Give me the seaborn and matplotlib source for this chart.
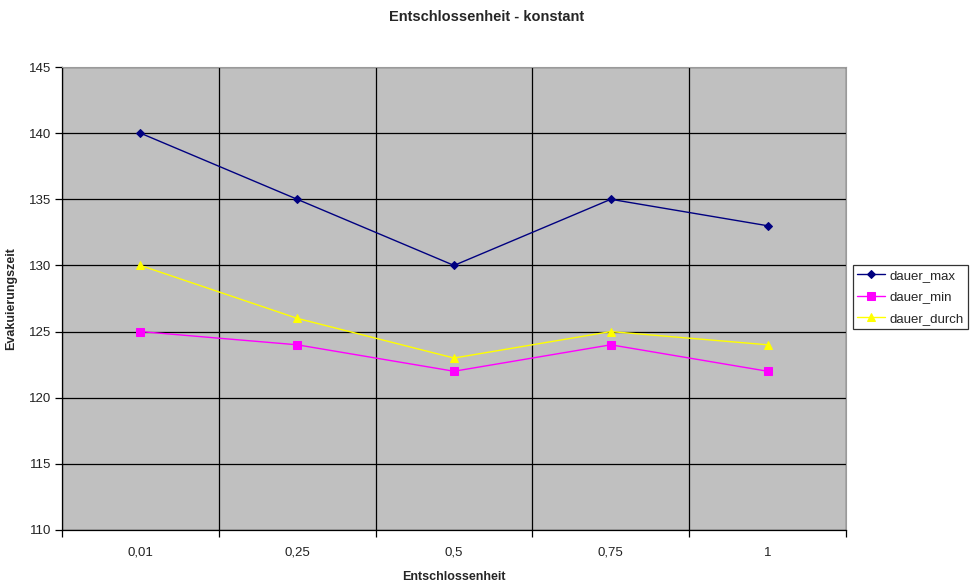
import matplotlib
matplotlib.use("Agg")
import matplotlib.pyplot as plt
import seaborn as sns
import pandas as pd
from matplotlib.ticker import FixedLocator

categories = ["0,01", "0,25", "0,5", "0,75", "1"]
dauer_max = [140, 135, 130, 135, 133]
dauer_min = [125, 124, 122, 124, 122]
dauer_durch = [130, 126, 123, 125, 124]
y_ticks = [110, 115, 120, 125, 130, 135, 140, 145]

series = {"dauer_max": dauer_max, "dauer_min": dauer_min, "dauer_durch": dauer_durch}
rows = []
for name, vals in series.items():
    for i, v in enumerate(vals):
        rows.append({"x": i, "value": v, "serie": name})
df = pd.DataFrame(rows)

sns.set_style("white")
plt.rcParams["font.family"] = ["Liberation Sans", "DejaVu Sans"]

fig = plt.figure(figsize=(9.73, 5.85), dpi=100)
ax = fig.add_axes([62 / 973, 1 - 530 / 585, (846 - 62) / 973, (530 - 67) / 585])
ax.set_facecolor("#C0C0C0")

palette = {"dauer_max": "#000080", "dauer_min": "#FF00FF", "dauer_durch": "#FFFF00"}
markers = {"dauer_max": "D", "dauer_min": "s", "dauer_durch": "^"}
sizes_m = {"dauer_max": 4.5, "dauer_min": 5.5, "dauer_durch": 6}

for name in series:
    sub = df[df["serie"] == name]
    sns.lineplot(data=sub, x="x", y="value", ax=ax, color=palette[name],
                 marker=markers[name], markersize=sizes_m[name],
                 markeredgecolor=palette[name], linewidth=1.0, label=name)

ax.set_xlim(-0.5, 4.5)
ax.set_ylim(110, 145)
ax.set_yticks(y_ticks)
ax.set_xticks(range(len(categories)))
ax.set_xticklabels(categories)
ax.xaxis.set_minor_locator(FixedLocator([-0.5, 0.5, 1.5, 2.5, 3.5, 4.5]))

ax.grid(False)
ax.yaxis.grid(True, color="black", linewidth=0.9)
ax.xaxis.grid(True, which="minor", color="black", linewidth=0.9)
ax.set_axisbelow(True)

ax.tick_params(axis="y", which="major", direction="out", length=5, width=0.9,
               color="black", labelsize=9.5, labelcolor="#222222", pad=3, left=True)
ax.tick_params(axis="x", which="major", length=0, labelsize=9.5, labelcolor="#222222", pad=12)
ax.tick_params(axis="x", which="minor", direction="out", length=5, width=0.9,
               color="black", bottom=True)

for side in ["left", "bottom"]:
    ax.spines[side].set_color("black")
    ax.spines[side].set_linewidth(0.9)
for side in ["top", "right"]:
    ax.spines[side].set_color("#9a9a9a")
    ax.spines[side].set_linewidth(0.8)

ax.set_xlabel("Entschlossenheit", fontsize=9, fontweight="bold", labelpad=9)
ax.set_ylabel("Evakuierungszeit", fontsize=9, fontweight="bold", labelpad=8)
fig.text(0.5, 1 - 17 / 585, "Entschlossenheit - konstant", ha="center", va="center",
         fontsize=10.5, fontweight="bold")

leg = ax.legend(loc="center right", bbox_to_anchor=(968 / 973, 1 - 297 / 585),
                bbox_transform=fig.transFigure, frameon=True, fancybox=False,
                edgecolor="black", fontsize=9.5, handlelength=2.1, borderpad=0.35,
                labelspacing=0.7, handletextpad=0.3, borderaxespad=0)
leg.get_frame().set_linewidth(0.9)

fig.savefig("out.png", dpi=100, facecolor="white")
